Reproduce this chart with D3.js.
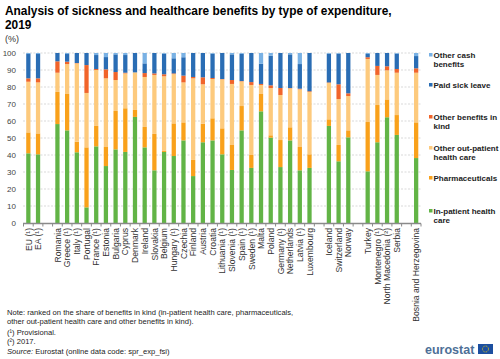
<!DOCTYPE html>
<html><head><meta charset="utf-8">
<script src="https://cdn.jsdelivr.net/npm/d3@7"></script>
<style>
body{margin:0;background:#fff;}
svg{font-family:"Liberation Sans",Arial,sans-serif;}
</style></head><body>
<svg id="c" width="500" height="359"></svg>
<script>
const categories = ["EU (¹)","EA (¹)","","Romania","Greece (¹)","Italy (¹)","Portugal","France (¹)","Estonia","Bulgaria","Cyprus","Denmark","Ireland","Slovakia","Belgium","Hungary (¹)","Czechia","Finland","Austria","Croatia","Lithuania (¹)","Slovenia (¹)","Spain (¹)","Sweden (¹)","Malta","Poland","Germany (¹)","Netherlands","Latvia (¹)","Luxembourg","","Iceland","Switzerland","Norway","","Turkey","Montenegro (¹)","North Macedonia (²)","Serbia","","Bosnia and Herzegovina"];
const inPatient =      [41.0,40.4,null,58.2,54.5,41.6, 9.2,45.1,33.5,43.3,41.8,62.4,44.5,31.0,41.8,39.4,48.6,27.6,47.5,48.6,40.4,31.2,54.5,32.4,65.7,50.2,32.9,48.6,31.0,32.4,null,57.1,36.3,50.4,null,30.4,47.5,62.2,51.8,null,38.2];
const pharmaceuticals =[12.3,12.3,null,18.9,21.4, 6.2,35.3,12.0,11.2,22.6,25.7, 4.1,12.0,21.4, 0.6,19.2,10.6, 9.5,10.9,13.0,15.3,14.7,14.3, 7.6,10.2, 1.4,15.9, 7.7,13.7, 8.0,null, 3.9, 9.6, 4.1,null,29.0,21.9,10.5,11.7,null,21.0];
const otherOutPatient =[29.8,30.0,null,11.3,17.6,46.1,32.0,32.9,40.4,18.2,20.5,22.1,29.4,34.7,43.9,29.0,23.5,48.0,23.2,23.1,28.8,35.9,14.5,41.2, 5.3,27.8,26.5,22.9,33.9,36.7,null,21.4,27.0,20.2,null,37.1,17.7,17.1,24.9,null,29.2];
const otherInKind =    [ 2.0, 2.4,null, 6.7, 1.4, 0.2,16.4, 0.6, 5.3, 4.7, 0.4, 0.0, 2.3, 0.9, 1.2, 0.4, 4.0, 0.8, 4.1, 0.6, 0.2, 2.3, 0.2, 1.7, 0.6, 1.6, 4.1, 0.2, 0.4, 0.4,null, 0.3, 8.7, 1.6,null, 1.0, 5.3, 2.4, 2.2,null, 2.6];
const paidSickLeave =  [14.3,14.3,null, 4.9, 4.5, 5.9, 7.1, 8.2, 7.2,10.4,10.4,11.4, 5.7,12.0,12.1, 8.9,10.8,14.1,14.3,14.3,15.3,15.1,16.0,17.1,11.9,17.4,20.6,19.8,14.5,22.5,null,16.9,18.0,23.7,null, 1.9, 7.6, 7.8, 9.0,null, 7.2];
const otherCash =      [ 0.6, 0.6,null, 0.0, 0.6, 0.0, 0.0, 1.2, 2.4, 0.8, 1.2, 0.0, 6.1, 0.0, 0.4, 3.1, 2.5, 0.0, 0.0, 0.4, 0.0, 0.8, 0.5, 0.0, 6.3, 1.6, 0.0, 0.8, 6.5, 0.0,null, 0.4, 0.4, 0.0,null, 0.6, 0.0, 0.0, 0.4,null, 1.8];
const seriesNames = ["In-patient health care","Pharmaceuticals","Other out-patient health care","Other benefits in kind","Paid sick leave","Other cash benefits"];
const seriesColors = ["#62b446","#f9a11b","#fdca7d","#f1642a","#2a6db4","#79b1e4"];
const yTicks = [0,10,20,30,40,50,60,70,80,90,100];

const seriesData = [inPatient,pharmaceuticals,otherOutPatient,otherInKind,paidSickLeave,otherCash];
const rows = categories.map((c,i)=>{const r={idx:i,name:c}; seriesNames.forEach((s,j)=>r[s]=seriesData[j][i]||0); return r;});
const svg = d3.select("#c");

// title
const title = svg.append("g").attr("font-weight","bold").attr("font-size","11.9px").attr("fill","#000");
title.append("text").attr("x",5).attr("y",15).text("Analysis of sickness and healthcare benefits by type of expenditure,");
title.append("text").attr("x",5).attr("y",29).text("2019");
svg.append("text").attr("x",5).attr("y",42).attr("font-size","9px").attr("fill","#333").text("(%)");

const x = d3.scaleBand().domain(d3.range(categories.length)).range([23.5,421]).paddingInner(0.56).paddingOuter(0.28);
const y = d3.scaleLinear().domain([0,100]).range([223,53]);

// grid
svg.append("g").selectAll("line").data(yTicks.filter(d=>d>0)).join("line")
  .attr("x1",23).attr("x2",421).attr("y1",d=>y(d)).attr("y2",d=>y(d))
  .attr("stroke","#cfcfcf").attr("stroke-width",0.8).attr("stroke-dasharray","2,1.5");
// y labels
const yAxis = d3.axisLeft(y).tickValues(yTicks).tickSize(0).tickPadding(4);
const ya = svg.append("g").attr("transform","translate(20,0)").call(yAxis);
ya.select(".domain").remove();
ya.selectAll("text").attr("font-size","8px").attr("fill","#444").attr("font-family","Liberation Sans, Arial, sans-serif");

// stacks
const stack = d3.stack().keys(seriesNames)(rows);
svg.append("g").selectAll("g").data(stack).join("g").attr("fill",(d,i)=>seriesColors[i])
  .selectAll("rect").data(d=>d.filter(p=>categories[p.data.idx]!=="")).join("rect")
  .attr("x",d=>x(d.data.idx)).attr("width",x.bandwidth())
  .attr("y",d=>y(d[1])).attr("height",d=>Math.max(0,y(d[0])-y(d[1])));

// x axis
const xa = svg.append("g");
xa.append("line").attr("x1",23).attr("x2",421).attr("y1",223.5).attr("y2",223.5).attr("stroke","#8a8a8a").attr("stroke-width",1.3);
const step = x.step();
xa.selectAll("line.t").data(d3.range(categories.length+1)).join("line").attr("class","t")
  .attr("x1",d=>23.5+d*step).attr("x2",d=>23.5+d*step).attr("y1",223.5).attr("y2",226.5)
  .attr("stroke","#8a8a8a").attr("stroke-width",1);
xa.selectAll("text").data(rows.filter(r=>r.name!=="")).join("text")
  .attr("transform",d=>`translate(${x(d.idx)+x.bandwidth()/2+3.2},228) rotate(-90)`)
  .attr("text-anchor","end").attr("font-size","8.6px").attr("fill","#333").text(d=>d.name);

// legend
const legendItems = [
  {i:5, lines:["Other cash","benefits"], y:55},
  {i:4, lines:["Paid sick leave"], y:85},
  {i:3, lines:["Other benefits in","kind"], y:117},
  {i:2, lines:["Other out-patient","health care"], y:148},
  {i:1, lines:["Pharmaceuticals"], y:178},
  {i:0, lines:["In-patient health","care"], y:211}
];
const lg = svg.append("g");
legendItems.forEach(it=>{
  lg.append("rect").attr("x",429).attr("y",it.y-2).attr("width",3.5).attr("height",3.5).attr("fill",seriesColors[it.i]);
  it.lines.forEach((l,k)=>lg.append("text").attr("x",433.5).attr("y",it.y+3+k*9).attr("font-size","8px").attr("font-weight","bold").attr("fill","#222").text(l));
});

// footer
const ft = svg.append("g").attr("font-size","7.6px").attr("fill","#222");
ft.append("text").attr("x",7).attr("y",315).text("Note: ranked on the share of benefits in kind (in-patient health care, pharmaceuticals,");
ft.append("text").attr("x",7).attr("y",324).text("other out-patient health care and other benefits in kind).");
ft.append("text").attr("x",7).attr("y",335).text("(¹) Provisional.");
ft.append("text").attr("x",7).attr("y",344).text("(²) 2017.");
const src = ft.append("text").attr("x",7).attr("y",354);
src.append("tspan").attr("font-style","italic").text("Source:");
src.append("tspan").text(" Eurostat (online data code: spr_exp_fsi)");

// logo
svg.append("text").attr("x",425).attr("y",354).attr("font-size","12.5px").attr("fill","#4d6f97").attr("font-weight","bold").text("eurostat");
svg.append("rect").attr("x",478).attr("y",344).attr("width",15).attr("height",10).attr("fill","#1c4fa0");
svg.append("circle").attr("cx",485.5).attr("cy",349).attr("r",3).attr("fill","none").attr("stroke","#ffd800").attr("stroke-width",0.9).attr("stroke-dasharray","0.8,0.8");
</script></body></html>
